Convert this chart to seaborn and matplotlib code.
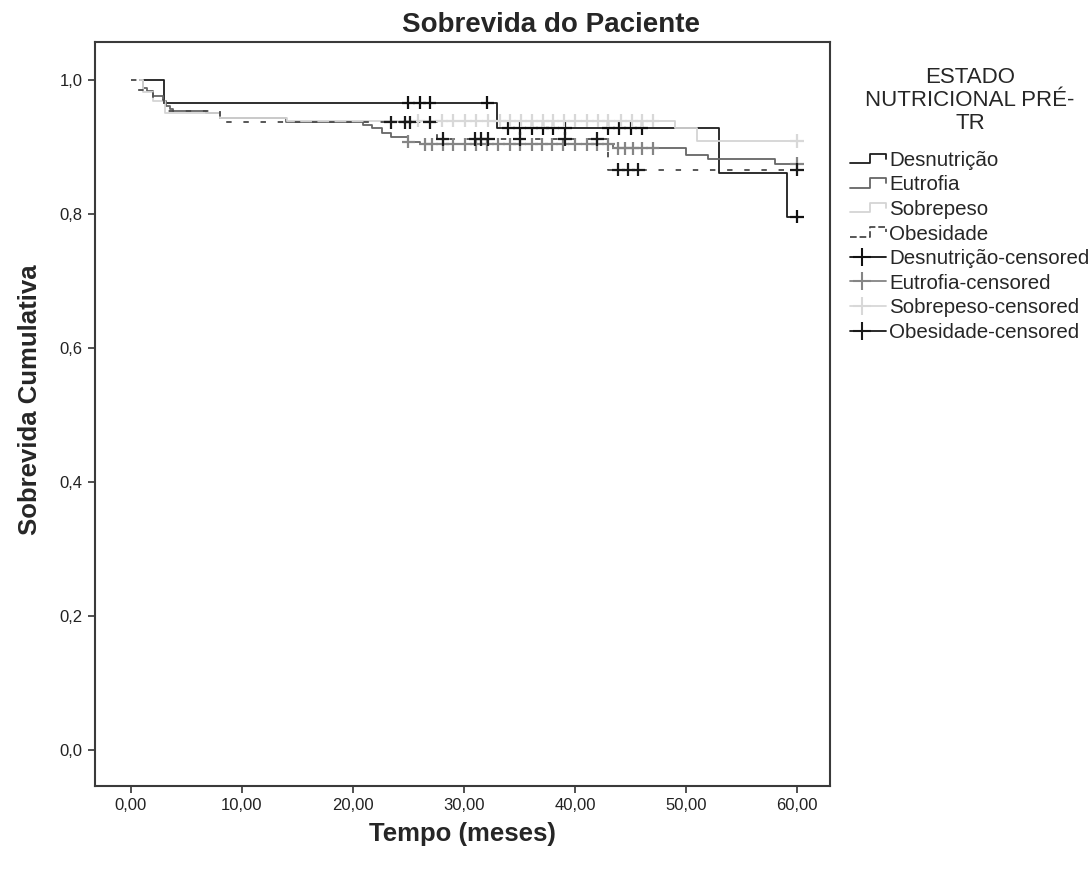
import matplotlib
matplotlib.use("Agg")
import matplotlib.pyplot as plt
from matplotlib.legend_handler import HandlerBase
from matplotlib.lines import Line2D
import numpy as np
import pandas as pd
import seaborn as sns

# -------------------------------------------------------------------------
# DATA
# -------------------------------------------------------------------------
groups = ["Desnutrição", "Eutrofia", "Sobrepeso", "Obesidade"]

desn_t = [1.0, 3.0, 33.0, 53.0, 59.1, 60.0]
desn_s = [1.0, 0.966, 0.928, 0.861, 0.796, 0.796]

eutr_t = [0.8, 1.05, 1.4, 2.0, 2.9, 3.2, 3.5, 3.8, 6.8, 8.0, 14.0,
          20.9, 21.7, 22.6, 23.4, 25.0, 26.0, 43.4, 50.0, 52.0, 58.0, 60.0]
eutr_s = [1.0, 0.988, 0.983, 0.976, 0.968, 0.961, 0.957, 0.954, 0.951, 0.943, 0.938,
          0.933, 0.928, 0.921, 0.915, 0.908, 0.904, 0.898, 0.888, 0.882, 0.875, 0.875]

sobr_t = [0.8, 1.05, 2.0, 3.06, 8.0, 14.1, 49.0, 51.0, 60.0]
sobr_s = [1.0, 0.982, 0.968, 0.951, 0.943, 0.939, 0.928, 0.909, 0.909]

obes_t = [0.0, 0.5, 2.0, 3.0, 8.0, 27.6, 43.0, 60.0]
obes_s = [1.0, 0.985, 0.970, 0.953, 0.937, 0.912, 0.866, 0.866]

# censored observations (months)
desn_cens = [25.0, 26.0, 26.9, 32.1, 34.0, 35.0, 36.1, 37.1, 38.0, 39.1,
             43.0, 44.0, 45.0, 46.0, 60.0]
eutr_cens = [25.0, 26.5, 27.1, 28.1, 29.0, 30.1, 31.1, 32.1, 33.1, 34.1, 35.0,
             36.1, 37.0, 37.9, 38.9, 40.0, 41.1, 42.0, 43.0, 43.9, 44.5, 45.2,
             46.0, 47.0, 60.0]
sobr_cens = [25.9, 28.0, 29.0, 30.1, 31.1, 32.2, 33.2, 34.1, 35.1, 36.1, 37.1,
             38.0, 39.0, 40.0, 41.1, 42.1, 43.0, 44.1, 45.1, 46.0, 47.0, 60.0]
obes_cens = [23.4, 24.7, 25.1, 26.9, 28.1, 31.0, 31.5, 32.2, 35.0, 39.1, 42.0,
             43.9, 44.8, 45.7, 60.0]

line_colors = {"Desnutrição": "#1e1e1e", "Eutrofia": "#666666",
               "Sobrepeso": "#d4d4d4", "Obesidade": "#4a4a4a"}
cens_colors = {"Desnutrição": "#111111", "Eutrofia": "#858585",
               "Sobrepeso": "#d8d8d8", "Obesidade": "#1a1a1a"}

curves = {"Desnutrição": (desn_t, desn_s), "Eutrofia": (eutr_t, eutr_s),
          "Sobrepeso": (sobr_t, sobr_s), "Obesidade": (obes_t, obes_s)}
censors = {"Desnutrição": desn_cens, "Eutrofia": eutr_cens,
           "Sobrepeso": sobr_cens, "Obesidade": obes_cens}


def step_value(t_list, s_list, t):
    # survival value of a step curve at time t
    idx = np.searchsorted(t_list, t, side="right") - 1
    return s_list[max(idx, 0)]


df_lines = pd.concat(
    [pd.DataFrame({"t": curves[g][0], "s": curves[g][1], "grupo": g}) for g in groups],
    ignore_index=True,
)
df_cens = pd.concat(
    [pd.DataFrame({"t": censors[g],
                   "s": [step_value(curves[g][0], curves[g][1], c) for c in censors[g]],
                   "grupo": g}) for g in groups],
    ignore_index=True,
)

# -------------------------------------------------------------------------
# PLOT
# -------------------------------------------------------------------------
sns.set_theme(style="white")
plt.rcParams["font.family"] = ["Liberation Sans", "DejaVu Sans"]

fig = plt.figure(figsize=(10.91, 8.75), dpi=100)
ax = fig.add_axes([95 / 1091, 1 - 786 / 875, 735 / 1091, 744 / 875])

sns.lineplot(data=df_lines, x="t", y="s", hue="grupo", style="grupo",
             hue_order=groups, style_order=groups, palette=line_colors,
             dashes={"Desnutrição": "", "Eutrofia": "", "Sobrepeso": "",
                     "Obesidade": (3.0, 6.5)},
             drawstyle="steps-post", estimator=None, sort=False,
             linewidth=1.3, legend=False, ax=ax)

sns.scatterplot(data=df_cens, x="t", y="s", hue="grupo", hue_order=groups,
                palette=cens_colors, marker="+", s=90, linewidth=1.6,
                legend=False, ax=ax, zorder=3)

ax.set_xlim(-3.24, 62.97)
ax.set_ylim(-0.0537, 1.0567)
ax.set_xticks([0, 10, 20, 30, 40, 50, 60])
ax.set_xticklabels(["0,00", "10,00", "20,00", "30,00", "40,00", "50,00", "60,00"])
ax.set_yticks([0.0, 0.2, 0.4, 0.6, 0.8, 1.0])
ax.set_yticklabels(["0,0", "0,2", "0,4", "0,6", "0,8", "1,0"])
ax.tick_params(axis="both", which="major", direction="out", length=5, width=1.2,
               color="#333333", labelsize=12, labelcolor="#222222", pad=4,
               bottom=True, left=True)

for sp in ax.spines.values():
    sp.set_color("#3a3a3a")
    sp.set_linewidth(1.5)

ax.set_xlabel("Tempo (meses)", fontsize=18.5, fontweight="bold", labelpad=6)
ax.set_ylabel("Sobrevida Cumulativa", fontsize=18.5, fontweight="bold")
ax.yaxis.set_label_coords(-0.072, 0.519)
fig.text(0.505, 0.972, "Sobrevida do Paciente", ha="center", va="center",
         fontsize=20, fontweight="bold")


# legend glyph drawing a small survival step
class StepHandler(HandlerBase):
    def create_artists(self, legend, orig_handle, xdescent, ydescent,
                       width, height, fontsize, trans):
        x0 = -xdescent
        ylo = -ydescent + 0.2 * height
        yhi = -ydescent + 0.85 * height
        xs = [x0, x0 + 0.55 * width, x0 + 0.55 * width, x0 + width, x0 + width]
        ys = [ylo, ylo, yhi, yhi, yhi - 0.35 * height]
        ln = Line2D(xs, ys, color=orig_handle.get_color(),
                    linestyle=orig_handle.get_linestyle(), linewidth=1.3)
        ln.set_transform(trans)
        return [ln]


# legend glyph: a line with the censor cross towards the left
class CensHandler(HandlerBase):
    def create_artists(self, legend, orig_handle, xdescent, ydescent,
                       width, height, fontsize, trans):
        x0 = -xdescent
        ym = -ydescent + 0.5 * height
        ln = Line2D([x0, x0 + width], [ym, ym], color=orig_handle.get_color(),
                    linewidth=1.3)
        mk = Line2D([x0 + 0.33 * width], [ym], color=orig_handle.get_color(),
                    marker="+", markersize=13, markeredgewidth=1.5, linestyle="none")
        ln.set_transform(trans)
        mk.set_transform(trans)
        return [ln, mk]


step_handles = []
for g in groups:
    ls = (0, (1.5, 3)) if g == "Obesidade" else "-"
    step_handles.append(Line2D([], [], color=line_colors[g], linestyle=ls))
cens_handles = [Line2D([], [], color=cens_colors[g]) for g in groups]

handler_map = {h: StepHandler() for h in step_handles}
handler_map.update({h: CensHandler() for h in cens_handles})
leg = fig.legend(step_handles + cens_handles,
                 groups + [g + "-censored" for g in groups],
                 title="ESTADO\nNUTRICIONAL PRÉ-\nTR", loc="upper left",
                 bbox_to_anchor=(842 / 1091, 1 - 58.5 / 875), frameon=False,
                 fontsize=14.8, title_fontsize=16, handlelength=1.75,
                 handletextpad=0.15, labelspacing=0.27, numpoints=1,
                 borderaxespad=0, handler_map=handler_map)
leg.get_title().set_multialignment("center")
leg.get_title().set_linespacing(1.12)
leg._legend_box.sep = 12.5

fig.savefig("out.png", dpi=100, facecolor="white")
